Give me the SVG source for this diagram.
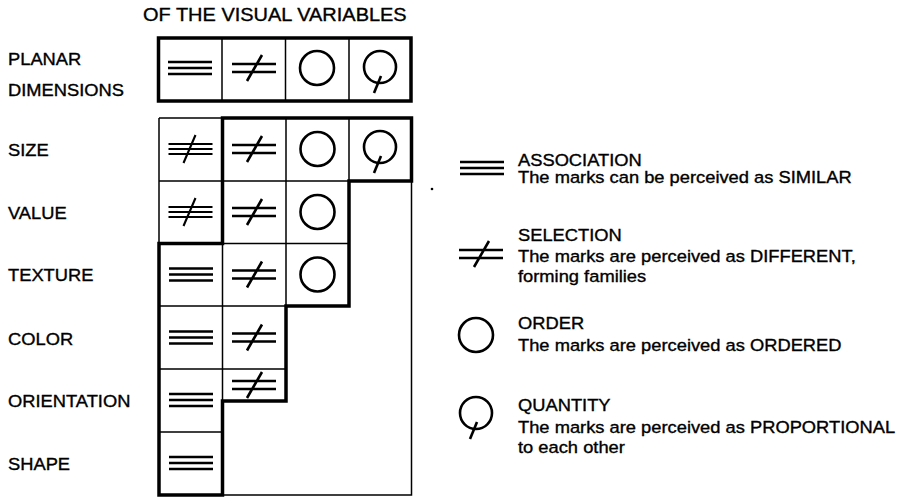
<svg xmlns="http://www.w3.org/2000/svg" xmlns:xlink="http://www.w3.org/1999/xlink" width="907" height="499" viewBox="0 0 907 499">
<style>
text{font-family:"Liberation Sans",Arial,sans-serif;fill:#000;stroke:#000;stroke-width:0.35}
.lbl{font-size:16.5px}
.ttl{font-size:18px}
.thin{fill:none;stroke:#000;stroke-width:1.5}
.thick{fill:none;stroke:#000;stroke-width:3.5}
.sym{fill:none;stroke:#000;stroke-width:2.6}
</style>
<defs>
<g id="assoc" class="sym"><path d="M-22,-6H22M-22,0H22M-22,6H22"/></g>
<g id="sel" class="sym"><path d="M-22,-4H22M-22,4H22M8,-13L-7,13"/></g>
<g id="sel3" class="sym"><path d="M-22,-5H22M-22,0H22M-22,5H22M5,-14L-7,14" stroke-width="2.1"/></g>
<g id="order" class="sym"><circle r="17"/></g>
<g id="quant" class="sym"><circle r="16"/><path d="M1,9L-6,26"/></g>
</defs>
<rect width="907" height="499" fill="#fff"/>
<g transform="translate(143,0) scale(1.11,1)">
<text class="ttl" x="0" y="21.5">OF THE VISUAL VARIABLES</text>
</g>
<g id="labels" transform="translate(8,0) scale(1.11,1)">
<text class="lbl" x="0" y="65.5">PLANAR</text>
<text class="lbl" x="0" y="96.5">DIMENSIONS</text>
<text class="lbl" x="0" y="156.5">SIZE</text>
<text class="lbl" x="0" y="219">VALUE</text>
<text class="lbl" x="0" y="281.5">TEXTURE</text>
<text class="lbl" x="0" y="345">COLOR</text>
<text class="lbl" x="0" y="407.5">ORIENTATION</text>
<text class="lbl" x="0" y="470.5">SHAPE</text>
</g>
<g id="planar">
<path class="thin" d="M222,38V101M285.5,38V101M349,38V101"/>
<rect class="thick" x="158.5" y="38" width="252.5" height="63"/>
<use xlink:href="#assoc" x="190" y="68"/>
<use xlink:href="#sel" x="254" y="68"/>
<use xlink:href="#order" x="317" y="68"/>
<use xlink:href="#quant" x="380" y="67"/>
</g>
<g id="grid">
<path class="thin" d="M159,118H222.5M159,118V243.5M159,181H349M222.5,243.5H349M286,118V306M349,118V181M159,306H286M159,369H286M159,432H222.5M222.5,243.5V401M411.5,181V495H222.5"/>
<path class="thick" d="M222.5,118H411.5V181H349V306H286V401H222.5V495H159V243.5H222.5Z"/>
<use xlink:href="#sel3" x="190.5" y="149"/>
<use xlink:href="#sel" x="254" y="149"/>
<use xlink:href="#order" x="317.5" y="149"/>
<use xlink:href="#quant" x="380" y="147"/>
<use xlink:href="#sel3" x="190.5" y="212"/>
<use xlink:href="#sel" x="254" y="212"/>
<use xlink:href="#order" x="317.5" y="212"/>
<use xlink:href="#assoc" x="191" y="274.5"/>
<use xlink:href="#sel" x="254" y="274.5"/>
<use xlink:href="#order" x="317.5" y="274.5"/>
<use xlink:href="#assoc" x="191" y="337.5"/>
<use xlink:href="#sel" x="254" y="337.5"/>
<use xlink:href="#assoc" x="191" y="400"/>
<use xlink:href="#sel" x="254" y="385"/>
<use xlink:href="#assoc" x="191" y="463"/>
<circle cx="432" cy="189" r="1.3" fill="#000"/>
</g>
<g id="legend">
<use xlink:href="#assoc" x="482" y="168"/>
<use xlink:href="#sel" x="481" y="254"/>
<use xlink:href="#order" x="476" y="335"/>
<use xlink:href="#quant" x="476" y="413"/>
<g transform="translate(518,0) scale(1.11,1)">
<text class="lbl" x="0" y="166">ASSOCIATION</text>
<text class="lbl" x="0" y="183.5">The marks can be perceived as SIMILAR</text>
<text class="lbl" x="0" y="241.5">SELECTION</text>
<text class="lbl" x="0" y="262.5">The marks are perceived as DIFFERENT,</text>
<text class="lbl" x="0" y="282">forming families</text>
<text class="lbl" x="0" y="329.5">ORDER</text>
<text class="lbl" x="0" y="351.5">The marks are perceived as ORDERED</text>
<text class="lbl" x="0" y="411.5">QUANTITY</text>
<text class="lbl" x="0" y="433.5">The marks are perceived as PROPORTIONAL</text>
<text class="lbl" x="0" y="453.5">to each other</text>
</g>
</g>
</svg>
